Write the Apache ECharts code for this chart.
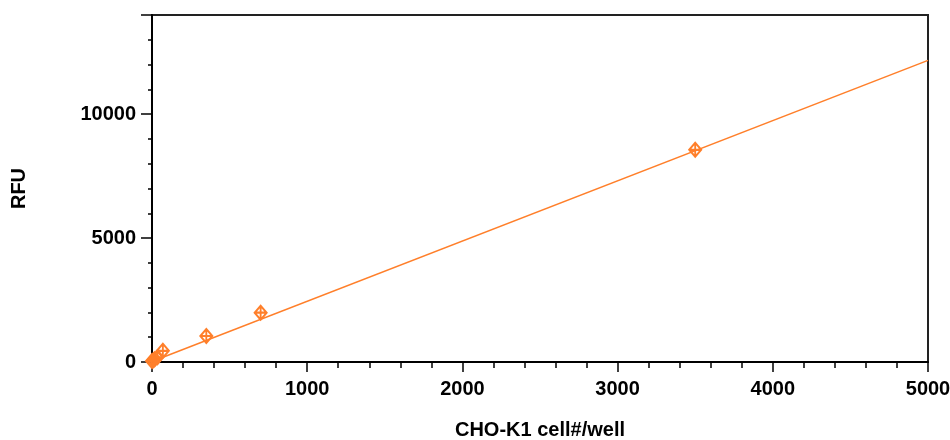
<!DOCTYPE html>
<html>
<head>
<meta charset="utf-8">
<script src="https://cdn.jsdelivr.net/npm/echarts@6/dist/echarts.min.js"></script>
<style>
html,body{margin:0;padding:0;background:#fff;}
#chart{width:950px;height:440px;}
</style>
</head>
<body>
<div id="chart"></div>
<script>
var cellCounts = [0, 9, 17, 35, 70, 350, 700, 3500];
var rfuValues  = [40, 70, 110, 190, 450, 1050, 1990, 8560];
var fitX = [0, 5000];
var fitY = [20, 12170];
var xTicks = [0, 1000, 2000, 3000, 4000, 5000];
var yTicks = [0, 5000, 10000];

var ORANGE = '#FF7F2A';
var FONT = 'Liberation Sans, Arial, sans-serif';

var chart = echarts.init(document.getElementById('chart'), null, {renderer: 'canvas'});
chart.setOption({
  animation: false,
  grid: {left: 152, right: 22, top: 15, bottom: 78, containLabel: false, outerBoundsMode: 'none',
    show: true, borderColor: '#222', borderWidth: 2, backgroundColor: 'transparent'},
  xAxis: {
    type: 'value', min: xTicks[0], max: xTicks[xTicks.length - 1], interval: 1000,
    name: 'CHO-K1 cell#/well', nameLocation: 'middle', nameGap: 58,
    nameTextStyle: {fontFamily: FONT, fontWeight: 'bold', fontSize: 20, color: '#000'},
    axisLine: {show: true, lineStyle: {color: '#000', width: 2}},
    axisTick: {show: true, length: 10, lineStyle: {color: '#000', width: 1.5}},
    minorTick: {show: true, splitNumber: 5, length: 6, lineStyle: {color: '#000', width: 1.5}},
    splitLine: {show: false},
    axisLabel: {margin: 17, fontFamily: FONT, fontWeight: 'bold', fontSize: 20, color: '#000',
      formatter: function (v) { return xTicks.indexOf(v) >= 0 ? String(v) : ''; }}
  },
  yAxis: {
    type: 'value', min: 0, max: 14000, interval: 5000,
    name: 'RFU', nameLocation: 'middle', nameGap: 123, nameRotate: 90,
    nameTextStyle: {fontFamily: FONT, fontWeight: 'bold', fontSize: 20, color: '#000'},
    axisLine: {show: true, lineStyle: {color: '#000', width: 2}},
    axisTick: {show: true, length: 11, lineStyle: {color: '#000', width: 1.5}},
    minorTick: {show: true, splitNumber: 5, length: 4, lineStyle: {color: '#000', width: 1.5}},
    splitLine: {show: false},
    axisLabel: {margin: 16, fontFamily: FONT, fontWeight: 'bold', fontSize: 20, color: '#000',
      formatter: function (v) { return yTicks.indexOf(v) >= 0 ? String(v) : ''; }}
  },
  series: [
    {
      type: 'line',
      data: fitX.map(function (x, i) { return [x, fitY[i]]; }),
      showSymbol: false, symbol: 'none',
      lineStyle: {color: ORANGE, width: 1.5},
      silent: true, z: 2
    },
    {
      type: 'scatter',
      data: cellCounts.map(function (x, i) { return [x, rfuValues[i]]; }),
      symbol: 'path://M0,-7 L6,0 L0,7 L-6,0 Z M0,-7 L0,7 M-6,0 L6,0',
      symbolSize: [12, 14],
      itemStyle: {color: 'rgba(0,0,0,0)', borderColor: ORANGE, borderWidth: 2, opacity: 1},
      z: 3
    }
  ]
});
</script>
</body>
</html>
